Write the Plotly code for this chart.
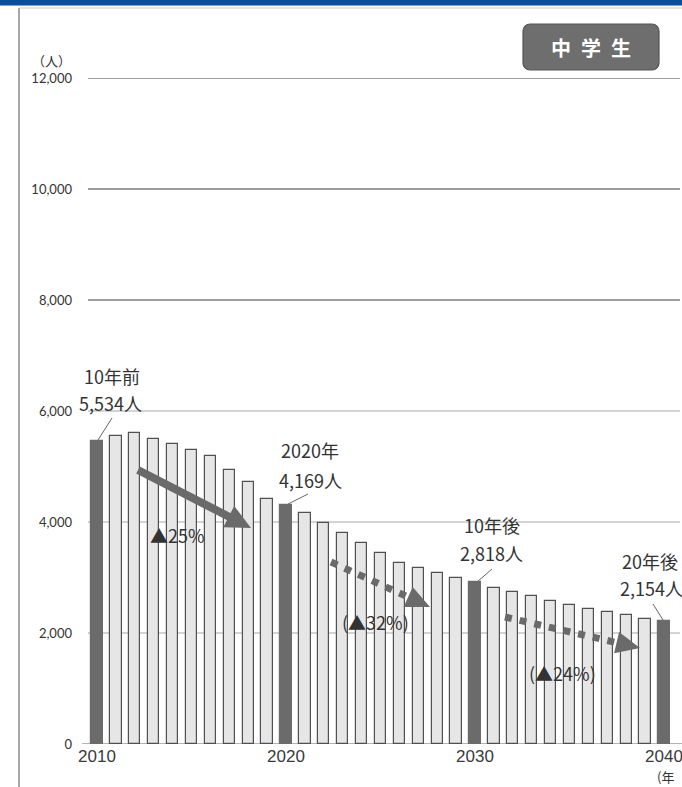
import plotly.graph_objects as go
import math

# ---------------- data ----------------
years = list(range(2010, 2041))
students = [5454, 5544, 5604, 5502, 5412, 5292, 5189, 4932, 4721, 4422,
            4313, 4162, 3982, 3802, 3622, 3449, 3261, 3178, 3088, 2998,
            2919, 2818, 2739, 2661, 2577, 2512, 2440, 2373, 2319, 2259,
            2211]
highlight_years = [2010, 2020, 2030, 2040]
y_ticks = [0, 2000, 4000, 6000, 8000, 10000, 12000]
y_ticktext = ["0", "2,000", "4,000", "6,000", "8,000", "10,000", "12,000"]
x_ticks = [2010, 2020, 2030, 2040]
x_ticktext = ["2010", "2020", "2030", "2040"]

callouts = [  # (line1, line2)
    ("10年前", "5,534人"),
    ("2020年", "4,169人"),
    ("10年後", "2,818人"),
    ("20年後", "2,154人"),
]
changes = ["▲25%", "(▲32%)", "(▲24%)"]
badge_text = "中\u2002学\u2002生"

# ---------------- layout geometry (pixels) ----------------
WIDTH, HEIGHT = 682, 787
L, T, W, H = 88, 78, 594, 666
X0 = 2010 - 9 / 18.9
X1 = X0 + W / 18.9


def px(x):
    return (x - L) / W


def py(y):
    return (T + H - y) / H


DARK = "#6b6b6b"
LIGHT = "#e6e6e6"
EDGE = "#505050"
TXT = "#333333"
JP = "Noto Sans CJK JP"

colors = [DARK if yr in highlight_years else LIGHT for yr in years]
edges = [DARK if yr in highlight_years else EDGE for yr in years]

fig = go.Figure()
fig.add_trace(go.Bar(
    x=years, y=students, width=0.6,
    marker=dict(color=colors, line=dict(color=edges, width=1.2)),
    hoverinfo="skip",
))

shapes = []
# gridlines
for v in y_ticks[1:]:
    shapes.append(dict(type="line", xref="paper", yref="y", x0=0, x1=px(680), y0=v, y1=v,
                       line=dict(color="#3a3a3a" if v >= 8000 else "#a8a8a8", width=1),
                       layer="below"))
shapes.append(dict(type="line", xref="paper", yref="y", x0=px(82), x1=1, y0=0, y1=0,
                   line=dict(color="#9a9a9a", width=1.5), layer="below"))

# frame decorations
shapes.append(dict(type="rect", xref="paper", yref="paper", x0=px(0), x1=px(682),
                   y0=py(5.5), y1=py(0), fillcolor="#0a4f9e", line=dict(width=0)))
shapes.append(dict(type="line", xref="paper", yref="paper", x0=px(19), x1=px(19),
                   y0=py(787), y1=py(8), line=dict(color="#8a8a8a", width=1.5)))
shapes.append(dict(type="line", xref="paper", yref="paper", x0=px(19), x1=px(682),
                   y0=py(8), y1=py(8), line=dict(color="#cfcfcf", width=1)))

# badge (rounded rect)
bx0, by0, bx1, by1, r = 523, 24, 659, 70, 7
k = 0.45
path = (f"M{px(bx0 + r)},{py(by0)} L{px(bx1 - r)},{py(by0)} "
        f"C{px(bx1 - r * k)},{py(by0)} {px(bx1)},{py(by0 + r * k)} {px(bx1)},{py(by0 + r)} "
        f"L{px(bx1)},{py(by1 - r)} "
        f"C{px(bx1)},{py(by1 - r * k)} {px(bx1 - r * k)},{py(by1)} {px(bx1 - r)},{py(by1)} "
        f"L{px(bx0 + r)},{py(by1)} "
        f"C{px(bx0 + r * k)},{py(by1)} {px(bx0)},{py(by1 - r * k)} {px(bx0)},{py(by1 - r)} "
        f"L{px(bx0)},{py(by0 + r)} "
        f"C{px(bx0)},{py(by0 + r * k)} {px(bx0 + r * k)},{py(by0)} {px(bx0 + r)},{py(by0)} Z")
shapes.append(dict(type="path", xref="paper", yref="paper", path=path,
                   fillcolor="#6e6e6e", line=dict(color="#555555", width=1.2)))


# arrows
def arrow(p0, tip, lw, headlen, headhalf, dash="solid", color="#6a6a6a"):
    dx, dy = tip[0] - p0[0], tip[1] - p0[1]
    ln = math.hypot(dx, dy)
    ux, uy = dx / ln, dy / ln
    bx, by = tip[0] - ux * headlen, tip[1] - uy * headlen
    nx, ny = -uy, ux
    out = [dict(type="line", xref="paper", yref="paper",
                x0=px(p0[0]), y0=py(p0[1]), x1=px(bx + ux * 2), y1=py(by + uy * 2),
                line=dict(color=color, width=lw, dash=dash))]
    c1 = (bx + nx * headhalf, by + ny * headhalf)
    c2 = (bx - nx * headhalf, by - ny * headhalf)
    out.append(dict(type="path", xref="paper", yref="paper",
                    path=f"M{px(tip[0])},{py(tip[1])} L{px(c1[0])},{py(c1[1])} "
                         f"L{px(c2[0])},{py(c2[1])} Z",
                    fillcolor=color, line=dict(width=0)))
    return out


shapes += arrow((138, 470), (251, 528), 8, 25, 12)
shapes += arrow((331, 562), (430, 607), 7, 24, 11, dash="7px,8px")
shapes += arrow((505, 617), (640, 648), 7, 24, 11, dash="7px,8px")

# leader lines
for (a, b) in [((98, 440), (112, 418)), ((288, 504), (308, 494)),
               ((477, 582), (492, 569)), ((663, 620), (653, 604))]:
    shapes.append(dict(type="line", xref="paper", yref="paper",
                       x0=px(a[0]), y0=py(a[1]), x1=px(b[0]), y1=py(b[1]),
                       line=dict(color="#666666", width=1)))

annotations = []


def txt(t, x, y, size=18, xanchor="center", color=TXT, bold=False, family=JP):
    annotations.append(dict(text=f"<b>{t}</b>" if bold else t, xref="paper", yref="paper",
                            x=px(x), y=py(y), xanchor=xanchor, yanchor="middle",
                            showarrow=False, borderpad=0,
                            font=dict(family=family, size=size, color=color)))


txt(callouts[0][0], 112, 376)
txt(callouts[0][1], 110, 403)
txt(callouts[1][0], 310, 450)
txt(callouts[1][1], 310, 480)
txt(callouts[2][0], 492, 525)
txt(callouts[2][1], 491, 553)
txt(callouts[3][0], 621, 561, xanchor="left")
txt(callouts[3][1], 619, 588, xanchor="left")
txt(changes[0], 177, 535)
txt(changes[1], 375, 622)
txt(changes[2], 562, 673)
txt(badge_text, 591, 47, size=20, color="white", bold=True)
txt("（人）", 51, 60, size=13)
txt("(年", 656, 776, size=13, xanchor="left")

fig.update_layout(
    width=WIDTH, height=HEIGHT,
    margin=dict(l=L, r=WIDTH - L - W, t=T, b=HEIGHT - T - H, pad=0),
    paper_bgcolor="white", plot_bgcolor="white",
    showlegend=False, bargap=0,
    shapes=shapes, annotations=annotations,
)
fig.update_xaxes(range=[X0, X1], tickvals=x_ticks, ticktext=x_ticktext,
                 showgrid=False, zeroline=False, showline=False, ticks="",
                 ticklabeloverflow="allow",
                 tickfont=dict(family="Liberation Sans Narrow, Liberation Sans", size=17, color="#3a3a3a"))
fig.update_yaxes(range=[0, 12000], tickvals=y_ticks, ticktext=y_ticktext,
                 showgrid=False, zeroline=False, showline=False, ticks="",
                 ticklabelstandoff=15,
                 tickfont=dict(family="Lato", size=13, color=TXT))

fig.write_html("out.html")
